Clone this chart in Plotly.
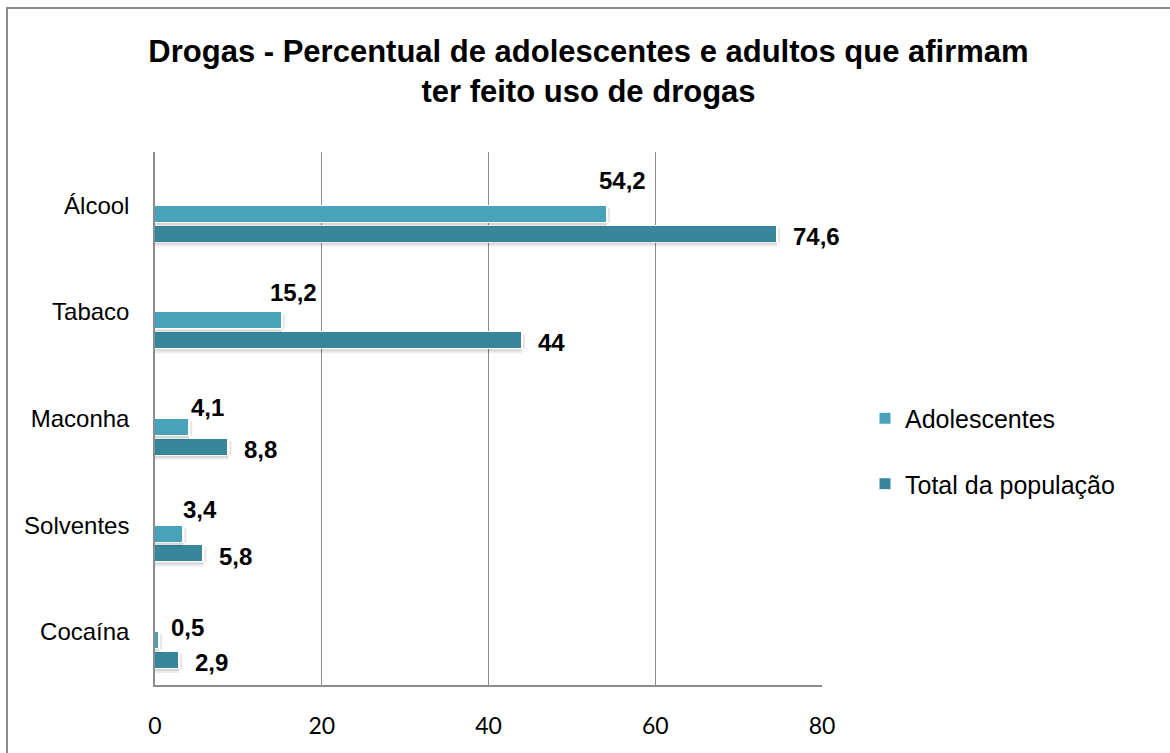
import plotly.graph_objects as go

# Dados
categorias = ["Álcool", "Tabaco", "Maconha", "Solventes", "Cocaína"]
adolescentes = [54.2, 15.2, 4.1, 3.4, 0.5]
total_populacao = [74.6, 44, 8.8, 5.8, 2.9]
x_ticks = [0, 20, 40, 60, 80]

W, H = 1170, 753
ML, MR, MT, MB = 155, 348, 152, 68
PW, PH = W - ML - MR, H - MT - MB

COR_ADOL = "#47A2BA"
COR_TOTAL = "#38869B"
GRID = "#8C8C8C"
ARIAL = "Liberation Sans, Arial, sans-serif"

BAR_W = 0.16
OFF_ADOL = 0.005
OFF_TOTAL = 0.19


def fmt(v):
    s = f"{v:g}"
    return s.replace(".", ",")


def px_to_paper(xp, yp):
    return (xp - ML) / PW, (H - MB - yp) / PH


pos = list(range(len(categorias)))

fig = go.Figure()
fig.add_trace(go.Bar(
    y=pos, x=adolescentes, orientation="h", name="Adolescentes",
    marker=dict(color=COR_ADOL, line=dict(color="white", width=1)),
    offset=OFF_ADOL, width=BAR_W, legendgroup="a",
))
fig.add_trace(go.Bar(
    y=pos, x=total_populacao, orientation="h", name="Total da população",
    marker=dict(color=COR_TOTAL, line=dict(color="white", width=1)),
    offset=OFF_TOTAL, width=BAR_W, legendgroup="b",
))

label_font = dict(family=ARIAL, size=24, color="black")

# rótulos das barras (deslocamentos em pixels)
adol_shift = [(-10, 25), (-14, 19), (0, 11), (-2, 16), (10, 4)]
annotations = []
for i, v in enumerate(adolescentes):
    dx, dy = adol_shift[i]
    annotations.append(dict(
        x=v, y=pos[i], xref="x", yref="y", text=f"<b>{fmt(v)}</b>",
        showarrow=False, xanchor="left", yanchor="middle",
        xshift=dx, yshift=dy, font=label_font,
    ))
for i, v in enumerate(total_populacao):
    annotations.append(dict(
        x=v, y=pos[i], xref="x", yref="y", text=f"<b>{fmt(v)}</b>",
        showarrow=False, xanchor="left", yanchor="middle",
        xshift=14, yshift=-31, font=label_font,
    ))

# moldura do gráfico
bx0, by0 = px_to_paper(7, 8)
bx1, by1 = px_to_paper(W + 20, H + 20)
shapes = [dict(type="rect", xref="paper", yref="paper",
               x0=bx0, y0=by1, x1=bx1, y1=by0,
               line=dict(color="#8C8C8C", width=2), fillcolor="rgba(0,0,0,0)",
               layer="below")]

# sombra suave sob cada barra
for serie, off in ((adolescentes, OFF_ADOL), (total_populacao, OFF_TOTAL)):
    for i, v in enumerate(serie):
        base = pos[i] + off + BAR_W
        for (a, b, alpha) in ((0, -2, 0.16), (-2, -4, 0.08)):
            shapes.append(dict(
                type="rect", xref="x", yref="y", ysizemode="pixel", yanchor=base,
                x0=0, x1=v, y0=a, y1=b,
                line=dict(width=0), fillcolor=f"rgba(0,0,0,{alpha})", layer="above",
            ))
        shapes.append(dict(
            type="rect", xref="x", yref="y", xsizemode="pixel", xanchor=v,
            x0=1, x1=3, y0=pos[i] + off + 0.02, y1=base,
            line=dict(width=0), fillcolor="rgba(0,0,0,0.10)", layer="above",
        ))

fig.update_layout(
    width=W, height=H,
    margin=dict(l=ML, r=MR, t=MT, b=MB, pad=0),
    paper_bgcolor="white", plot_bgcolor="white",
    title=dict(
        text="<b>Drogas - Percentual de adolescentes e adultos que afirmam<br>ter feito uso de drogas</b>",
        x=0.503, xref="container", xanchor="center",
        y=1 - 62 / H, yref="container", yanchor="middle",
        font=dict(family=ARIAL, size=31, color="black"),
    ),
    xaxis=dict(
        range=[0, 80], tickvals=x_ticks, ticktext=[str(t) for t in x_ticks],
        showgrid=True, gridcolor=GRID, gridwidth=1,
        showline=True, linecolor=GRID, linewidth=1.5,
        zeroline=False, ticks="", ticklabelstandoff=20,
        tickfont=dict(family="Lato, Carlito, sans-serif", size=23, color="black"),
        fixedrange=True,
    ),
    yaxis=dict(
        range=[len(categorias) - 0.5, -0.5],
        tickvals=pos, ticktext=categorias,
        showgrid=False, showline=True, linecolor=GRID, linewidth=1.5,
        zeroline=False, ticks="", ticklabelstandoff=19,
        tickfont=dict(family=ARIAL, size=24, color="black"),
        fixedrange=True,
    ),
    showlegend=True,
    legend=dict(
        x=px_to_paper(865, 0)[0], y=px_to_paper(0, 451)[1],
        xanchor="left", yanchor="middle",
        traceorder="grouped", tracegroupgap=30,
        font=dict(family=ARIAL, size=25, color="black"),
        bgcolor="rgba(0,0,0,0)",
    ),
    annotations=annotations,
    shapes=shapes,
    bargap=0, barmode="overlay",
)

fig.write_html("out.html")
